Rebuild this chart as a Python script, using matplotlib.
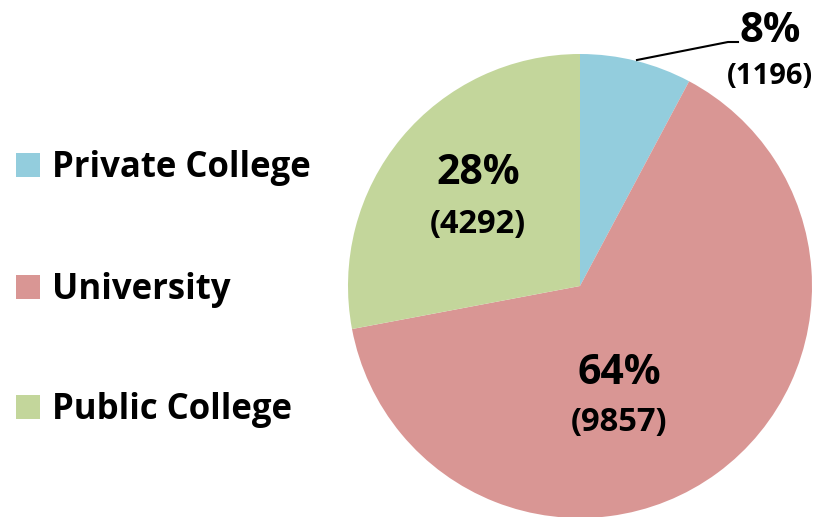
import matplotlib
matplotlib.use("Agg")
import matplotlib.pyplot as plt

categories = ["Private College", "University", "Public College"]
counts = [1196, 9857, 4292]
pct_labels = ["8%", "64%", "28%"]
colors = ["#93CDDD", "#D99694", "#C3D69B"]

W, H = 823, 517
fig = plt.figure(figsize=(W / 100, H / 100), dpi=100)
ax = fig.add_axes([0, 0, 1, 1])

cx, cy, r = 580, H - 286, 232
wedges, _ = ax.pie(counts, colors=colors, startangle=90, counterclock=False,
                   center=(cx, cy), radius=r, frame=True)
ax.set_xlim(0, W)
ax.set_ylim(0, H)
ax.axis("off")

fam = ["Open Sans", "DejaVu Sans"]
# labels: (x, y pct, y count, pct size, count size)
lab_pos = [(770, H - 31, H - 77, 30, 21),
           (619, H - 373, H - 422, 29.5, 23.5),
           (478, H - 173, H - 224, 29.5, 23.5)]
for (x, y1, y2, s1, s2), p, c in zip(lab_pos, pct_labels, counts):
    ax.text(x, y1, p, ha="center", va="center", fontsize=s1, fontweight="bold", family=fam)
    ax.text(x, y2, f"({c})", ha="center", va="center", fontsize=s2, fontweight="bold", family=fam)

# leader line for small slice
ax.plot([637, 728, 738], [H - 60, H - 42, H - 42], color="black", lw=1.5)

# legend
leg_y = [165, 287, 407]
for y, name, col in zip(leg_y, categories, colors):
    ax.add_patch(plt.Rectangle((16, H - y - 12), 24, 24, color=col, lw=0))
    ax.text(52, H - y - 3, name, ha="left", va="center", fontsize=25, fontweight="bold", family=fam)

fig.savefig("out.png", dpi=100)
